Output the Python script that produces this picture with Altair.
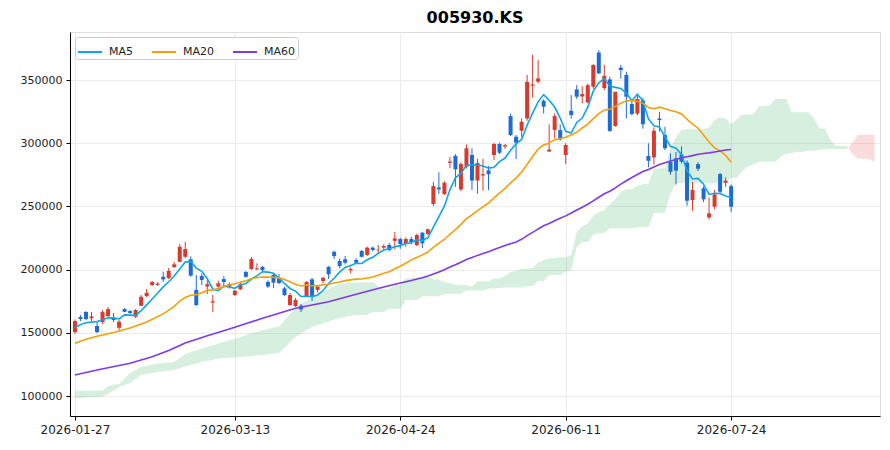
import pandas as pd
import numpy as np
import altair as alt

# ---------------- data ----------------
tick_idx = [0, 29, 59, 89, 119]
tick_labels = ["2026-01-27", "2026-03-13", "2026-04-24", "2026-06-11", "2026-07-24"]
y_ticks = [100000, 150000, 200000, 250000, 300000, 350000]

opens = [150600,162500,166500,161500,155400,158500,163300,161900,154000,168800,
         167200,162700,171400,179100,187800,188000,194300,193300,202000,206200,
         210200,208200,184000,194900,186600,174000,186600,192500,186600,179900,
         184400,198100,200500,200200,202200,190300,195700,193300,185200,172000,
         171200,171500,179100,192300,183900,191000,202200,214100,206800,208200,
         199500,207600,214800,211600,217400,215300,217400,219500,222800,224200,
         220300,224200,219500,229200,228200,251900,265000,259800,284500,290000,
         263400,281500,290700,270500,274500,278500,290700,299400,297500,321500,
         305100,309900,319600,345500,348700,333600,293500,310500,310400,290700,
         325700,342600,337000,332300,344700,371700,343700,350500,313600,359800,
         354000,331000,323500,334000,289900,288800,319600,306500,285300,288000,
         291200,284600,255100,283500,264300,241300,249800,275600,268700,266100]
highs = [160500,164000,167200,166500,158500,168000,170400,165700,160100,169600,
         168000,168800,179900,184700,191000,190000,198300,201300,206000,220300,
         222000,210500,195700,197000,191800,180000,191200,194900,190000,183900,
         189400,199000,210000,205000,203000,191500,197000,196500,186500,181500,
         177500,173000,190800,193500,188000,194300,202800,215000,208500,210800,
         201800,209000,215500,218200,218200,219500,220000,221000,229700,225000,
         225500,226000,228500,230000,232500,269500,277000,270000,289000,291400,
         285000,299000,296000,287500,287500,282000,300400,300500,299400,323600,
         306500,319600,354000,370000,365800,334800,314900,323700,315000,300000,
         338000,346000,345000,347000,362500,373700,362000,352500,340700,362000,
         356600,333000,338000,336000,300000,312500,324900,313000,292000,293000,
         297500,286500,269500,285000,266000,257100,263000,276500,273000,267400]
lows = [149000,159300,160000,159300,149800,157000,162500,158500,152200,166500,
        165000,161700,171200,178300,187000,187000,190300,192500,201300,206000,
        209000,194500,171200,187800,180700,166500,185300,187000,185000,179100,
        183900,193500,199700,199700,198500,185500,185300,188500,179000,171000,
        170500,166500,178500,175200,182000,189000,192600,208500,201300,204000,
        197000,204500,209500,210800,214500,213000,215500,214500,216100,216500,
        218000,220000,218500,217000,227500,250300,260000,259000,280300,265600,
        262000,280000,263000,260000,262400,263000,286700,291500,295500,305700,
        287500,305100,317800,336000,347400,323500,293000,303800,302000,283300,
        319600,335000,331500,331500,343000,354700,342000,309000,313000,351000,
        319600,322000,322000,311500,281000,283000,309100,294500,275000,267400,
        284000,250500,246500,278000,253500,239700,247800,260500,265500,245700]
closes = [159300,160900,160900,163000,150600,166600,168800,160100,158800,166600,
          165700,168000,178500,181700,190200,189000,192300,198900,204200,218100,
          216300,195200,172000,191800,188500,175000,189200,190200,188500,183300,
          188300,194300,208400,201000,199700,186600,189700,189400,179900,179900,
          176000,168500,190300,178500,186600,193500,196300,210800,202800,205500,
          200500,205500,210200,217400,215500,215800,218700,215500,224700,220300,
          224200,221800,227400,220800,231900,266100,263500,268800,285500,279400,
          283500,296000,270500,284300,275500,275500,299400,292500,298500,306500,
          300400,317000,348600,346500,351300,328900,295000,321500,303000,298600,
          322300,336800,339000,346000,361900,355300,353300,309700,340700,357900,
          336800,323100,335000,315000,286100,309900,318400,296000,277400,278300,
          285400,254500,263000,279800,255600,244500,259500,261600,270300,249800]

# moving-average values before enough bars exist
ma5_head = [154000, 156500, 158000, 158500]
ma20_head_idx = [0, 2, 4, 7, 10, 13, 16, 18]
ma20_head = [141700, 145000, 147300, 150300, 153800, 158500, 165000, 171000]
ma60_head_idx = [0, 4, 10, 14, 17, 20, 24, 28, 34, 40, 46, 52, 56]
ma60_head = [116600, 120600, 126000, 131000, 136000, 142000, 147700, 153000,
             161500, 169400, 174600, 181700, 186300]

# cloud values that depend on bars before the window
cloud_head_idx = [0, 5, 6, 8, 10, 12, 15, 18, 20, 23, 26, 30, 34, 37, 40, 43, 48]
span_a_head = [104200, 104400, 107900, 109500, 118200, 122900, 125700, 126900, 133200,
               137600, 141500, 146700, 152200, 155000, 169600, 178300, 189000]
span_b_head = [98200, 99600, 101600, 107100, 110300, 116600, 119000, 120600, 123300,
               126900, 129700, 130900, 132400, 134000, 146700, 154600, 161700]
span_b_mid = [164100, 164100, 164100, 166500, 166500, 166500, 169000, 169000, 169000,
              176000, 176000, 176000, 179000, 179000, 179000, 179000, 181000, 181000,
              181000, 181000, 183500, 183500, 183500, 183500, 185000, 185000]  # bars 51..76

RED = "#d73b2f"
BLUE = "#1c6bd6"
MA_NAMES = ["MA5", "MA20", "MA60"]
MA_COLORS = ["#0ea5e9", "#f59e0b", "#7c3aed"]

# ---------------- build tables ----------------
n = len(closes)
df = pd.DataFrame({"i": np.arange(n), "open": opens, "high": highs,
                   "low": lows, "close": closes})
df["dir"] = np.where(df["close"] >= df["open"], "up", "down")
up = df[df["dir"] == "up"]
down = df[df["dir"] == "down"]

c = df["close"]
ma5 = c.rolling(5).mean()
ma20 = c.rolling(20).mean()
ma60 = c.rolling(60).mean()

lines = []
for k, v in enumerate(ma5_head):
    lines.append({"i": k, "v": v, "name": "MA5"})
for k in range(4, n):
    lines.append({"i": k, "v": ma5[k], "name": "MA5"})
for k, v in zip(ma20_head_idx, ma20_head):
    lines.append({"i": k, "v": v, "name": "MA20"})
for k in range(19, n):
    lines.append({"i": k, "v": ma20[k], "name": "MA20"})
for k, v in zip(ma60_head_idx, ma60_head):
    lines.append({"i": k, "v": v, "name": "MA60"})
for k in range(59, n):
    lines.append({"i": k, "v": ma60[k], "name": "MA60"})
lines = pd.DataFrame(lines)

H = df["high"]; L = df["low"]
tenkan = (H.rolling(9).max() + L.rolling(9).min()) / 2
kijun = (H.rolling(26).max() + L.rolling(26).min()) / 2
senkou_b = (H.rolling(52).max() + L.rolling(52).min()) / 2

recs = []
for k, a, b in zip(cloud_head_idx, span_a_head, span_b_head):
    recs.append({"i": k, "a": a, "b": b})
for s in range(25, n):
    k = s + 26
    a = (tenkan[s] + kijun[s]) / 2
    b = span_b_mid[k - 51] if k <= 76 else senkou_b[s]
    recs.append({"i": k, "a": a, "b": b})

rows = []
for k, r in enumerate(recs):
    if k > 0:
        p = recs[k - 1]
        d0 = p["a"] - p["b"]; d1 = r["a"] - r["b"]
        if d0 * d1 < 0:
            t = d0 / (d0 - d1)
            xv = p["i"] + t * (r["i"] - p["i"])
            yv = p["a"] + t * (r["a"] - p["a"])
            rows.append({"i": xv, "a": yv, "b": yv})
    rows.append(r)
cl = pd.DataFrame(rows)
green = cl[cl["a"] >= cl["b"]]
redc = cl[cl["a"] <= cl["b"]]

# ---------------- encodings ----------------
label_expr = ""
for v, s in zip(tick_idx, tick_labels):
    label_expr += f"datum.value == {v} ? '{s}' : "
label_expr += "''"

FONT = "DejaVu Sans"
xscale = alt.Scale(domain=[-0.9, 146], nice=False, zero=False, padding=0)
yscale = alt.Scale(domain=[84200, 388000], nice=False, zero=False, padding=0)
xaxis = alt.Axis(values=tick_idx, labelExpr=label_expr, title=None, grid=True,
                 gridColor="#ebebeb", domainColor="#000", tickColor="#000",
                 tickSize=4, labelFontSize=12, labelColor="#222", labelFont=FONT,
                 labelPadding=4)
yaxis = alt.Axis(values=y_ticks, format="d", title=None, grid=True,
                 gridColor="#ebebeb", domainColor="#000", tickColor="#000",
                 tickSize=4, labelFontSize=11, labelColor="#222", labelFont=FONT,
                 labelPadding=4)

def X(f="i"):
    return alt.X(f"{f}:Q", scale=xscale, axis=xaxis)

def Y(f):
    return alt.Y(f"{f}:Q", scale=yscale, axis=yaxis)

cloud_g = alt.Chart(green).mark_area(color="#32af5a", opacity=0.2).encode(
    x=X(), y=Y("a"), y2="b:Q")
cloud_r = alt.Chart(redc).mark_area(color="#eb5055", opacity=0.2).encode(
    x=X(), y=Y("a"), y2="b:Q")

wick_up = alt.Chart(up).mark_rule(color=RED, strokeWidth=1).encode(
    x=X(), y=Y("low"), y2="high:Q")
wick_dn = alt.Chart(down).mark_rule(color=BLUE, strokeWidth=1).encode(
    x=X(), y=Y("low"), y2="high:Q")
body_up = alt.Chart(up).mark_bar(color=RED, size=4).encode(
    x=X(), y=Y("open"), y2="close:Q")
body_dn = alt.Chart(down).mark_bar(color=BLUE, size=4).encode(
    x=X(), y=Y("open"), y2="close:Q")

ma = alt.Chart(lines).mark_line(strokeWidth=1.6).encode(
    x=X(), y=Y("v"),
    color=alt.Color("name:N",
                    scale=alt.Scale(domain=MA_NAMES, range=MA_COLORS),
                    legend=alt.Legend(title=None, orient="top-left", direction="horizontal",
                                      symbolType="stroke", symbolStrokeWidth=2,
                                      symbolSize=576, labelFontSize=11, labelFont=FONT,
                                      labelColor="#222", fillColor="white",
                                      strokeColor="#cccccc", cornerRadius=3, padding=2,
                                      offset=5, columnPadding=14, labelOffset=6)),
    order="i:Q")

chart = alt.layer(cloud_g, cloud_r, wick_up, wick_dn, body_up, body_dn, ma).properties(
    width=810, height=384,
    title=alt.TitleParams("005930.KS", fontSize=16, fontWeight="bold", font=FONT,
                          anchor="middle", offset=6, color="#000"),
    autosize=alt.AutoSizeParams(type="none"),
    padding={"left": 62, "top": 24, "right": 2, "bottom": 26},
).configure_view(stroke=None).configure(background="white")

chart.save("out.html", embed_options={"renderer": "svg", "actions": False})
